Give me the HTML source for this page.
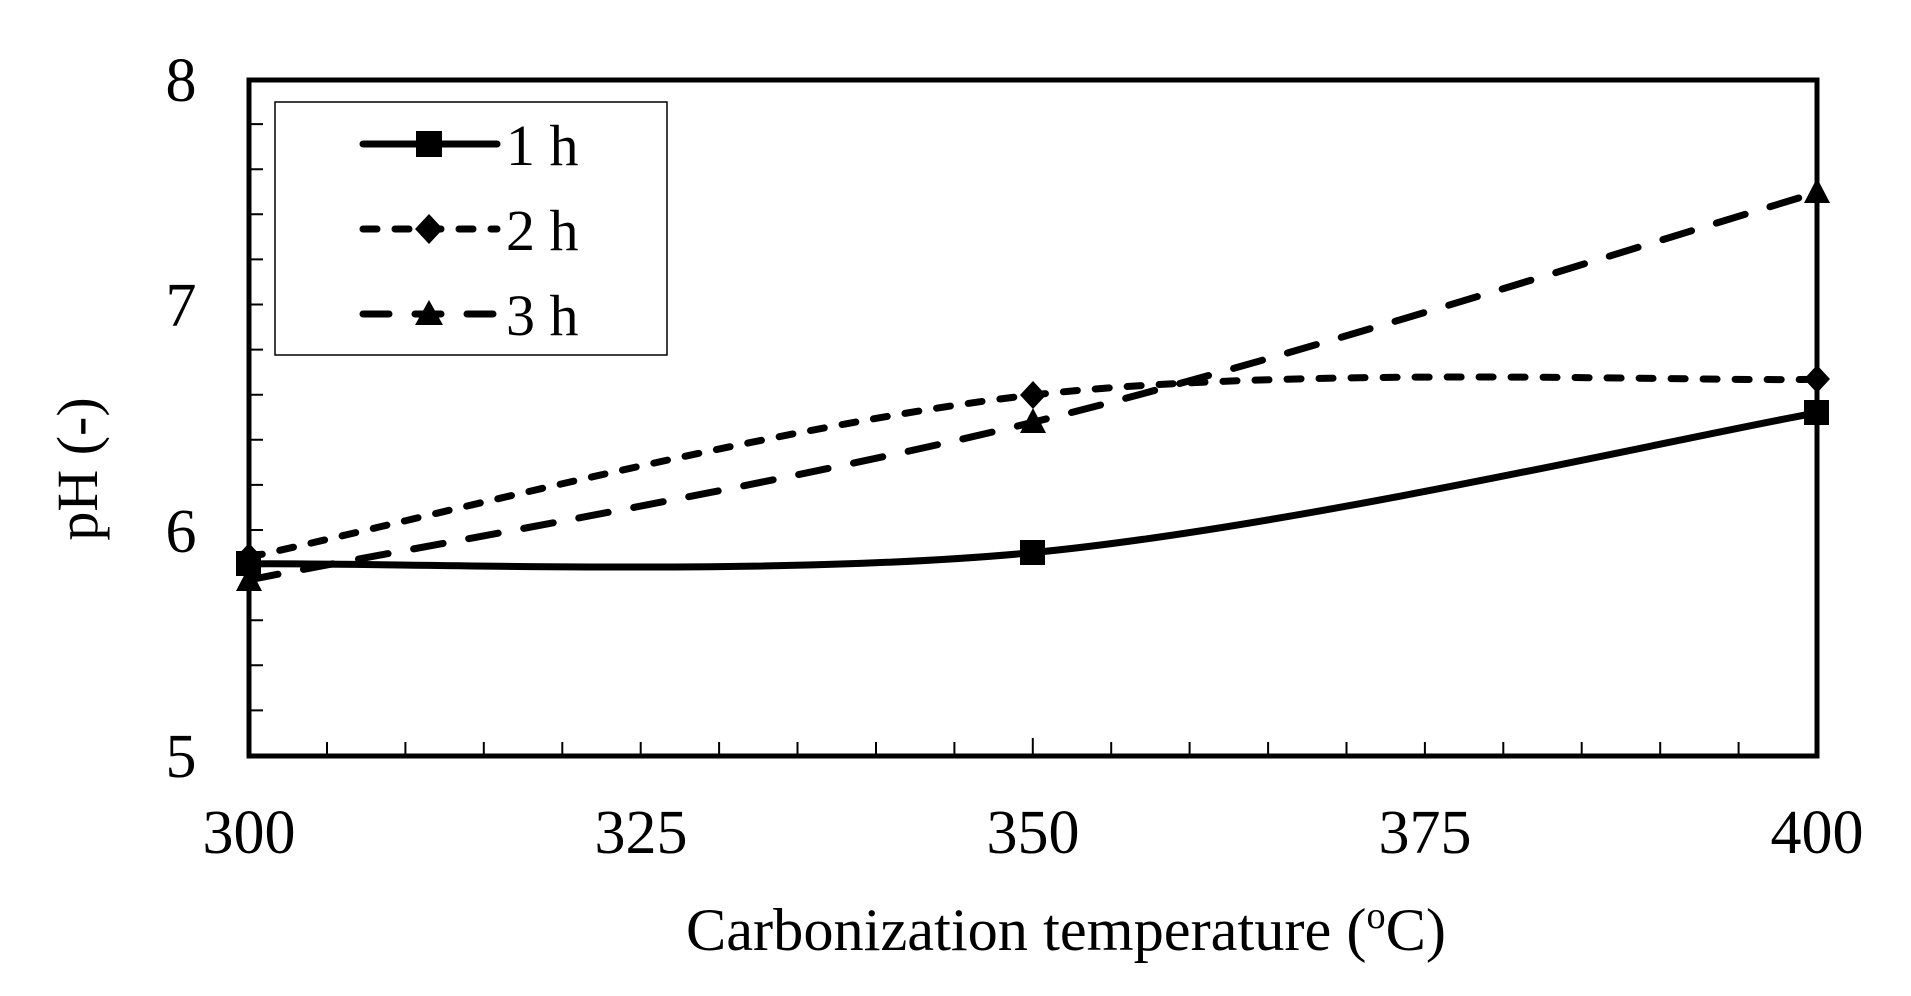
<!DOCTYPE html>
<html><head><style>html,body{margin:0;padding:0;background:#fff}svg{display:block}</style></head>
<body>
<svg width="1911" height="996" viewBox="0 0 1911 996" xmlns="http://www.w3.org/2000/svg" font-family="'Liberation Serif', serif">
<rect width="1911" height="996" fill="#fff"/>
<g stroke="#000" stroke-width="2">
<path d="M249,124.1h14M249,169.2h14M249,214.3h14M249,259.4h14M249,304.5h14M249,349.6h14M249,394.7h14M249,439.8h14M249,484.9h14M249,530h14M249,575.1h14M249,620.2h14M249,665.3h14M249,710.4h14"/>
<path d="M327.0,756v-14M405.4,756v-14M483.8,756v-14M562.3,756v-14M640.7,756v-14M719.1,756v-14M797.5,756v-14M876.0,756v-14M954.4,756v-14M1032.8,756v-18M1111.2,756v-14M1189.6,756v-14M1268.1,756v-14M1346.5,756v-14M1424.9,756v-14M1503.3,756v-14M1581.7,756v-14M1660.2,756v-14M1738.6,756v-14"/>
</g>
<rect x="249" y="80" width="1568" height="676" fill="none" stroke="#000" stroke-width="5"/>
<rect x="275" y="102" width="392" height="253" fill="#fff" stroke="#000" stroke-width="1.5"/>
<g stroke="#000" stroke-width="7" stroke-linecap="round" fill="none">
<path d="M363,144H497"/>
<path d="M363,229H497" stroke-dasharray="14,18"/>
<path d="M363,314H497" stroke-dasharray="26,26"/>
</g>
<rect x="416" y="131" width="26" height="26" fill="#000"/>
<path d="M429,214L443,229L429,244L415,229Z" fill="#000"/>
<path d="M429,300L443,325H415Z" fill="#000"/>
<g font-size="58" fill="#000">
<text x="506" y="165">1 h</text><text x="506" y="250">2 h</text><text x="506" y="335">3 h</text>
</g>
<g stroke="#000" stroke-width="7" fill="none" stroke-linecap="round">
<path d="M248.6,563.9C379.3,562 771.4,577.8 1032.8,552.6C1294.2,527.4 1686.3,436.1 1817,412.8"/>
<path d="M248.6,557.1C379.3,530.1 771.4,424.6 1032.8,395C1294.2,365.4 1686.3,381.9 1817,379.3" stroke-dasharray="14,18"/>
<path d="M248.6,580C379.3,553.7 771.4,486.9 1032.8,422.3C1294.2,357.7 1686.3,230.9 1817,192.6" stroke-dasharray="30,26"/>
</g>
<g fill="#000">
<rect x="236" y="551" width="25" height="25"/><rect x="1020" y="540" width="25" height="25"/><rect x="1804" y="400" width="25" height="25"/>
<path d="M249,543L262,557L249,571L236,557Z"/><path d="M1033,381L1046,395L1033,409L1020,395Z"/><path d="M1817,365L1830,379L1817,393L1804,379Z"/>
<path d="M249,566L262,591H236Z"/><path d="M1033,408L1046,433H1020Z"/><path d="M1817,178L1830,203H1804Z"/>
</g>
<g font-size="62" fill="#000" text-anchor="middle">
<text x="181" y="101">8</text><text x="181" y="326">7</text><text x="181" y="552">6</text><text x="181" y="777">5</text>
<text x="249" y="853">300</text><text x="641" y="853">325</text><text x="1033" y="853">350</text><text x="1425" y="853">375</text><text x="1817" y="853">400</text>
</g>
<text x="686" y="950" font-size="60" textLength="760" lengthAdjust="spacingAndGlyphs">Carbonization temperature (<tspan font-size="38" dy="-22">o</tspan><tspan dy="22">C)</tspan></text>
<text transform="translate(97,469) rotate(-90)" font-size="58" text-anchor="middle">pH (-)</text>
</svg>
</body></html>
